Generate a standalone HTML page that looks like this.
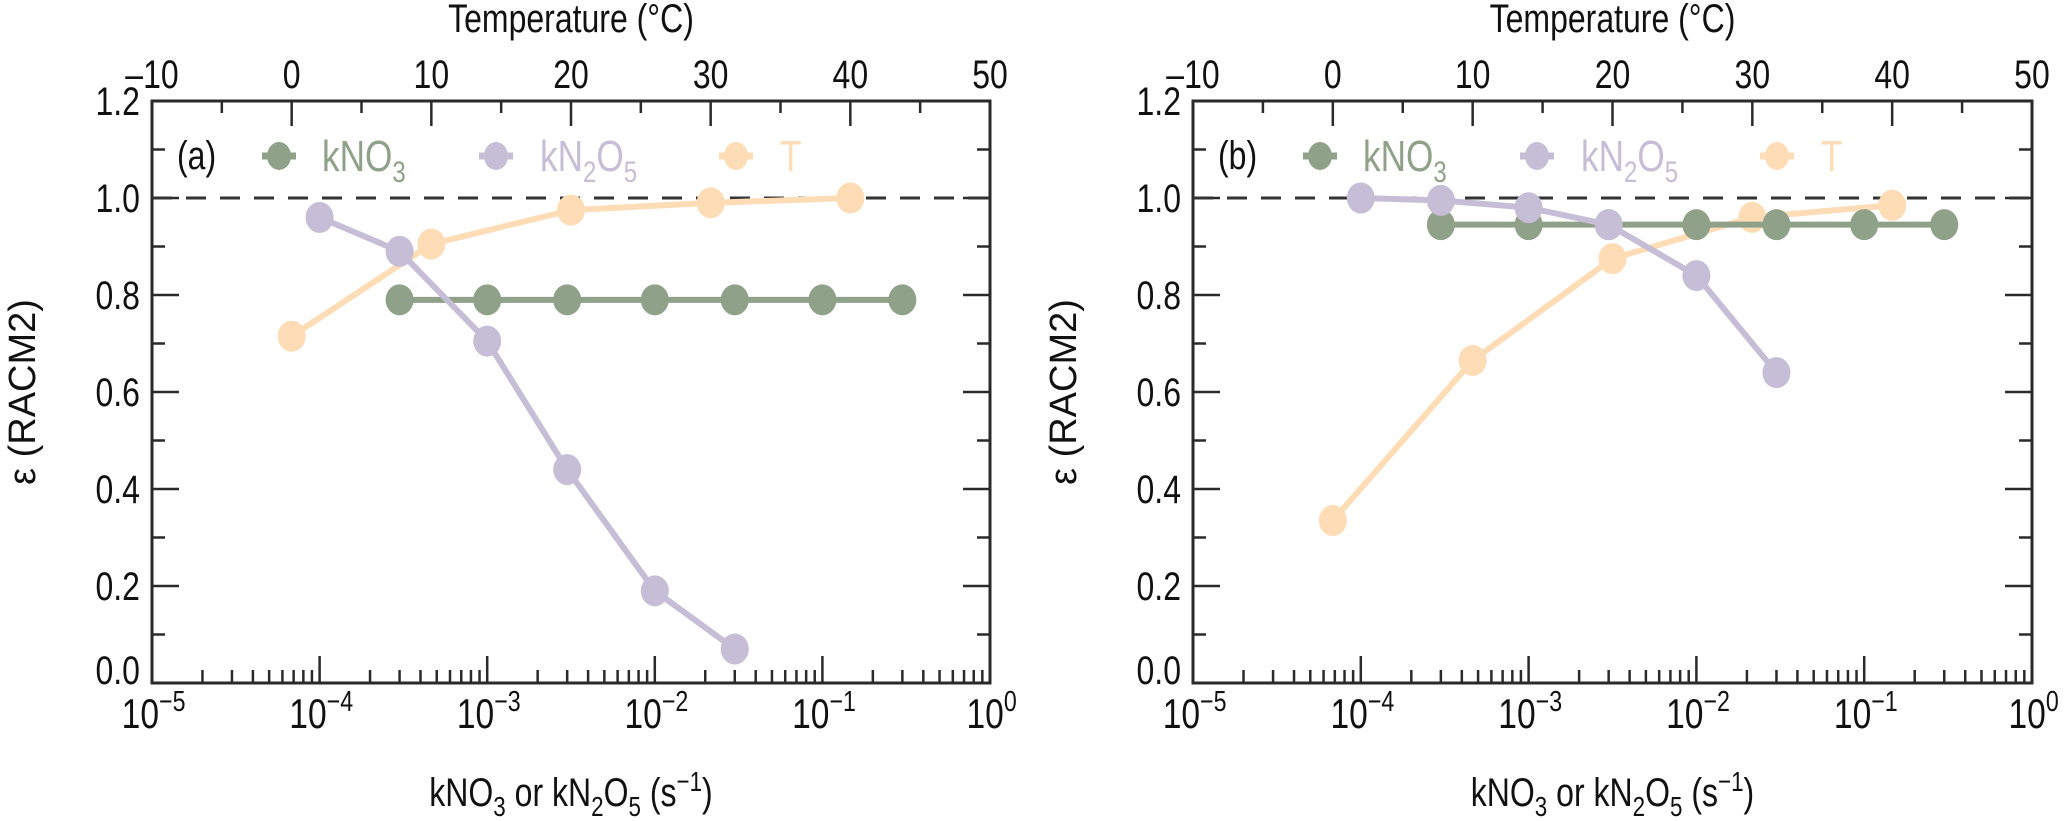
<!DOCTYPE html>
<html><head><meta charset="utf-8"><style>
html,body{margin:0;padding:0;background:#fff;}
svg{display:block;}
text{font-family:"Liberation Sans Narrow","Liberation Sans",sans-serif;fill:#111;}
</style></head>
<body>
<svg id="chart" width="2067" height="821" viewBox="0 0 2067 821" xmlns="http://www.w3.org/2000/svg"></svg>
<script>
// ---- data ----
const tempValues = [0, 10, 20, 30, 40];
const kno3K_a = [3e-4, 1e-3, 3e-3, 1e-2, 3e-2, 1e-1, 3e-1];
const kno3Eps_a = [0.79, 0.79, 0.79, 0.79, 0.79, 0.79, 0.79];
const kn2o5K_a = [1e-4, 3e-4, 1e-3, 3e-3, 1e-2, 3e-2];
const kn2o5Eps_a = [0.96, 0.89, 0.705, 0.44, 0.19, 0.07];
const tEps_a = [0.715, 0.905, 0.975, 0.99, 1.0];
const kno3K_b = [3e-4, 1e-3, 3e-3, 1e-2, 3e-2, 1e-1, 3e-1];
const kno3Eps_b = [0.945, 0.945, 0.945, 0.945, 0.945, 0.945, 0.945];
const kn2o5K_b = [1e-4, 3e-4, 1e-3, 3e-3, 1e-2, 3e-2];
const kn2o5Eps_b = [1.0, 0.995, 0.98, 0.945, 0.84, 0.64];
const tEps_b = [0.335, 0.665, 0.875, 0.96, 0.985];
const yTickLabels = ["0.0","0.2","0.4","0.6","0.8","1.0","1.2"];
const tTickLabels = ["\u201310","0","10","20","30","40","50"];
const xDecadeExps = ["\u22125","\u22124","\u22123","\u22122","\u22121","0"];

const NS = "http://www.w3.org/2000/svg";
const svg = document.getElementById('chart');
const GREEN = "#8fa188", PURPLE = "#c6bdd6", ORANGE = "#fddcb6", AX = "#2a2a2a";
const SQ = 0.8;

function mk(tag, attrs, parent) {
  const e = document.createElementNS(NS, tag);
  for (const k in attrs) e.setAttribute(k, attrs[k]);
  (parent || svg).appendChild(e);
  return e;
}
function squeeze(t, x) {
  t.setAttribute('transform', 'translate(' + x + ',0) scale(' + SQ + ',1) translate(' + (-x) + ',0)');
}

function panel(px0, px1, label, kno3K, kno3Eps, kn2o5K, kn2o5Eps, tEps, id) {
  const y0 = 683, y1 = 101;
  const g = mk('g', {});
  
  
  const xs = v => px0 + (Math.log10(v) + 5) / 5 * (px1 - px0);
  const xt = t => px0 + (t + 10) / 60 * (px1 - px0);
  const ys = v => y0 - v / 1.2 * (y0 - y1);

  for (let i = 0; i <= 12; i++) {
    const v = i * 0.1, y = ys(v), major = i % 2 === 0, L = major ? 27 : 13;
    const t1 = mk('line', {x1: px0, x2: px0 + L, y1: y, y2: y, stroke: AX, 'stroke-width': 2.5}, g);
    
    
    const t2 = mk('line', {x1: px1, x2: px1 - L, y1: y, y2: y, stroke: AX, 'stroke-width': 2.5}, g);
    
    
  }
  yTickLabels.forEach((s, i) => {
    const y = ys(i * 0.2) + (i === 0 ? -13 : 0);
    const t = mk('text', {x: px0 - 12, y: y + 14, 'text-anchor': 'end', 'font-size': 40}, g);
    t.textContent = s;
    squeeze(t, px0 - 12);
    
    
  });
  for (let d = -5; d < 0; d++) {
    for (let m = 1; m <= 9; m++) {
      const v = m * Math.pow(10, d), x = xs(v), L = m === 1 ? 27 : 13;
      if (m === 1 && d === -5) continue;
      const t = mk('line', {x1: x, x2: x, y1: y0, y2: y0 - L, stroke: AX, 'stroke-width': 2.5}, g);
      
      
    }
  }
  xDecadeExps.forEach((e, i) => {
    const x = xs(Math.pow(10, i - 5));
    const t = mk('text', {x: x + 2, y: 728, 'text-anchor': 'middle', 'font-size': 42}, g);
    
    
    t.textContent = '10';
    const sp = mk('tspan', {dy: -17, 'font-size': 29}, t);
    sp.textContent = e;
    squeeze(t, x);
  });
  for (let tt = -10; tt <= 50; tt += 5) {
    const x = xt(tt), L = tt % 10 === 0 ? 25 : 12;
    const t = mk('line', {x1: x, x2: x, y1: y1, y2: y1 + L, stroke: AX, 'stroke-width': 2.5}, g);
    
    
  }
  tTickLabels.forEach((s, i) => {
    const x = xt(-10 + i * 10);
    const t = mk('text', {x: x, y: 88, 'text-anchor': 'middle', 'font-size': 40}, g);
    t.textContent = s;
    squeeze(t, x);
    
    
  });
  const fr = mk('rect', {x: px0, y: y1, width: px1 - px0, height: y0 - y1, fill: 'none', stroke: AX, 'stroke-width': 3}, g);
  
  
  const dl = mk('line', {x1: px0, x2: px1, y1: ys(1), y2: ys(1), stroke: '#333', 'stroke-width': 3, 'stroke-dasharray': '20 14'}, g);
  
  

  function series(xsArr, ysArr, col, name) {
    const sg = mk('g', {}, g);
    
    
    const pts = xsArr.map((x, i) => x + ',' + ysArr[i]).join(' ');
    const pl = mk('polyline', {points: pts, fill: 'none', stroke: col, 'stroke-width': 6}, sg);
    
    
    xsArr.forEach((x, i) => {
      const c = mk('ellipse', {cx: x, cy: ysArr[i], rx: 14, ry: 15.5, fill: col}, sg);
      
      
    });
  }
  series(tempValues.map(xt), tEps.map(ys), ORANGE, 'series-t-' + id);
  series(kno3K.map(xs), kno3Eps.map(ys), GREEN, 'series-kno3-' + id);
  series(kn2o5K.map(xs), kn2o5Eps.map(ys), PURPLE, 'series-kn2o5-' + id);

  const ly = 156;
  const pl = mk('text', {x: px0 + 25, y: ly + 13, 'font-size': 40}, g);
  pl.textContent = label;
  squeeze(pl, px0 + 25);
  
  
  const entries = [[127, 170, GREEN, 'kNO', '3', ''], [344, 388, PURPLE, 'kN', '2', 'O'], [584, 628, ORANGE, 'T', '', '']];
  entries.forEach(([mo, to, col, a, sub, b]) => {
    const lg = mk('g', {}, g);
    
    
    mk('line', {x1: px0 + mo - 17, x2: px0 + mo + 17, y1: ly, y2: ly, stroke: col, 'stroke-width': 7}, lg);
    mk('ellipse', {cx: px0 + mo, cy: ly, rx: 12, ry: 14, fill: col}, lg);
    const t = mk('text', {x: px0 + to, y: ly + 15, 'font-size': 44, fill: col}, lg);
    t.setAttribute('style', 'fill:' + col);
    t.appendChild(document.createTextNode(a));
    if (sub) { const s = mk('tspan', {dy: 11, 'font-size': 30}, t); s.textContent = sub; }
    if (b) { const s = mk('tspan', {dy: -11}, t); s.textContent = b;
             const s2 = mk('tspan', {dy: 11, 'font-size': 30}, t); s2.textContent = '5'; }
    squeeze(t, px0 + to);
  });

  const cx = (px0 + px1) / 2;
  const tt = mk('text', {x: cx, y: 32, 'text-anchor': 'middle', 'font-size': 40}, g);
  tt.textContent = 'Temperature (\u00B0C)';
  squeeze(tt, cx);
  
  
  const bt = mk('text', {x: cx, y: 806, 'text-anchor': 'middle', 'font-size': 40}, g);
  
  
  bt.appendChild(document.createTextNode('kNO'));
  let s = mk('tspan', {dy: 10, 'font-size': 28}, bt); s.textContent = '3';
  s = mk('tspan', {dy: -10}, bt); s.textContent = ' or kN';
  s = mk('tspan', {dy: 10, 'font-size': 28}, bt); s.textContent = '2';
  s = mk('tspan', {dy: -10}, bt); s.textContent = 'O';
  s = mk('tspan', {dy: 10, 'font-size': 28}, bt); s.textContent = '5';
  s = mk('tspan', {dy: -10}, bt); s.textContent = ' (s';
  s = mk('tspan', {dy: -15, 'font-size': 28}, bt); s.textContent = '\u22121';
  s = mk('tspan', {dy: 15}, bt); s.textContent = ')';
  squeeze(bt, cx);
  const yl = px0 - 117;
  const yt = mk('text', {x: yl, y: 392, 'text-anchor': 'middle', 'font-size': 38, transform: 'rotate(-90 ' + yl + ' 392)'}, g);
  yt.setAttribute('style', 'font-family:"Liberation Sans",sans-serif');
  yt.textContent = '\u03B5 (RACM2)';
  
  
}

panel(152, 990, '(a)', kno3K_a, kno3Eps_a, kn2o5K_a, kn2o5Eps_a, tEps_a, 'a');
panel(1193, 2032, '(b)', kno3K_b, kno3Eps_b, kn2o5K_b, kn2o5Eps_b, tEps_b, 'b');
</script>
</body></html>
